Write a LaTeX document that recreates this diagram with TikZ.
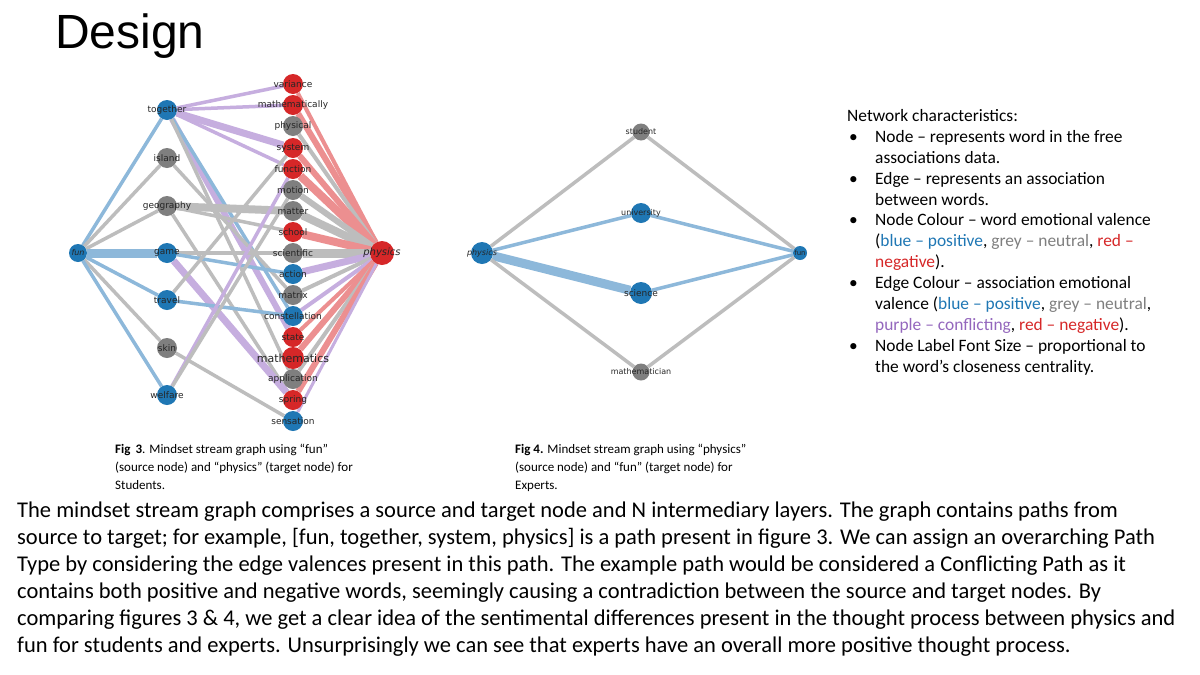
\documentclass[tikz,border=0pt]{standalone}
\usepackage{fontspec}
\setmainfont{Carlito}
\newfontfamily\ttl{Liberation Sans}
\newfontfamily\lab{DejaVu Sans}
\pgfdeclarelayer{back}\pgfdeclarelayer{bg}\pgfsetlayers{back,bg,main}
\definecolor{cB}{HTML}{1F77B4}\definecolor{cG}{HTML}{7F7F7F}
\definecolor{cR}{HTML}{D62728}\definecolor{cP}{HTML}{9467BD}
\definecolor{eB}{HTML}{8DB8DA}\definecolor{eG}{HTML}{BDBDBD}
\definecolor{eR}{HTML}{EC8F90}\definecolor{eP}{HTML}{C6AEDF}
\tikzset{
 nd/.style={circle,minimum size=20pt,inner sep=0pt,fill=#1},
 lbl/.style={font=\lab\fontsize{9}{9}\selectfont,text=black!85},
 e/.style={draw=#1,line width=3.5pt},
 body/.style={anchor=base west,inner sep=0pt,font=\fontsize{17.4}{17}\selectfont},
 para/.style={anchor=base west,inner sep=0pt,font=\fontsize{22.5}{22}\selectfont},
 figcap/.style={anchor=base west,inner sep=0pt,font=\fontsize{13}{13}\selectfont}
}
\begin{document}
\begin{tikzpicture}[x=1pt,y=-1pt]
\begin{pgfonlayer}{back}
\path[fill=white] (0,0) rectangle (1200,675);
\end{pgfonlayer}
\useasboundingbox (0,0) rectangle (1200,675);
\node[anchor=base west,inner sep=0pt,font=\ttl\fontsize{48}{48}\selectfont] (title) at (55,48) {Design};
% left graph nodes
\node[nd=cB,minimum size=18pt,label={[lbl,font=\lab\itshape\fontsize{8}{8}\selectfont]center:fun}] (fun) at (78,253) {};
\foreach \n/\y/\c in {together/110/cB,island/158/cG,geography/206/cG,game/253/cB,travel/300/cB,skin/348/cG,welfare/395/cB}
  \node[nd=\c,label={[lbl]center:\n}] (\n) at (167,\y) {};
\foreach \n/\y/\c in {variance/84/cR,mathematically/105/cR,physical/126/cG,system/148/cR,function/169/cR,motion/190/cG,matter/211/cG,school/232/cR,scientific/253/cG,action/274/cB,matrix/295/cG,constellation/316/cB,state/337/cR,application/379/cG,spring/400/cR,sensation/421/cB}
  \node[nd=\c,label={[lbl]center:\n}] (\n) at (293,\y) {};
\node[nd=cR,minimum size=22pt,label={[lbl,font=\lab\fontsize{11}{11}\selectfont]center:mathematics}] (mathematics) at (293,358) {};
\node[nd=cR,minimum size=24pt,label={[lbl,font=\lab\itshape\fontsize{10}{10}\selectfont]center:physics}] (physicsL) at (382,253) {};
\begin{pgfonlayer}{bg}
\draw[e=eB] (fun)--(together); \draw[e=eG] (fun)--(island); \draw[e=eG] (fun)--(geography);
\draw[e=eB,line width=9pt] (fun)--(game); \draw[e=eB] (fun)--(travel); \draw[e=eG] (fun)--(skin);
\draw[e=eB] (fun)--(welfare);
\draw[e=eP] (together)--(variance); \draw[e=eP] (together)--(mathematically);
\draw[e=eP,line width=7pt] (together)--(system); \draw[e=eP] (together)--(function);
\draw[e=eP,line width=6pt] (together)--(state); \draw[e=eB] (together)--(constellation);
\draw[e=eG] (together)--(application);
\draw[e=eG] (island)--(matrix);
\draw[e=eG,line width=8pt] (geography)--(matter); \draw[e=eG] (geography)--(school); \draw[e=eG] (geography)--(spring);
\draw[e=eG] (game)--(scientific); \draw[e=eB] (game)--(action); \draw[e=eP,line width=7pt] (game)--(spring);
\draw[e=eG] (travel)--(system); \draw[e=eB] (travel)--(constellation);
\draw[e=eG] (skin)--(sensation);
\draw[e=eP] (welfare)--(function); \draw[e=eG] (welfare)--(motion);
\foreach \n/\c/\w in {variance/eR/4,mathematically/eR/6,physical/eG/4,system/eR/6,function/eR/8,motion/eG/6,matter/eG/8,school/eR/8,scientific/eG/9,action/eP/7,matrix/eG/4,constellation/eP/4,state/eR/4,mathematics/eR/6,application/eG/4,spring/eR/6,sensation/eP/3}
  \draw[e=\c,line width=\w pt] (\n)--(physicsL);
\end{pgfonlayer}
% right graph
\node[nd=cB,minimum size=22pt,label={[lbl,font=\lab\itshape\fontsize{8}{8}\selectfont]center:physics}] (physicsR) at (482,253) {};
\node[nd=cB,minimum size=14pt,label={[lbl,font=\lab\fontsize{7}{7}\selectfont]center:fun}] (funR) at (800,253) {};
\node[nd=cG,minimum size=17pt,label={[lbl,font=\lab\fontsize{8}{8}\selectfont]center:student}] (student) at (641,132) {};
\node[nd=cB,minimum size=20pt,label={[lbl,font=\lab\fontsize{8}{8}\selectfont]center:university}] (university) at (641,213) {};
\node[nd=cB,minimum size=22pt,label={[lbl,font=\lab\fontsize{9}{9}\selectfont]center:science}] (science) at (641,293) {};
\node[nd=cG,minimum size=17pt,label={[lbl,font=\lab\fontsize{8}{8}\selectfont]center:mathematician}] (mathematician) at (641,372) {};
\begin{pgfonlayer}{bg}
\draw[e=eG] (physicsR)--(student); \draw[e=eB] (physicsR)--(university);
\draw[e=eB,line width=9pt] (physicsR)--(science); \draw[e=eG] (physicsR)--(mathematician);
\draw[e=eG] (student)--(funR); \draw[e=eB] (university)--(funR);
\draw[e=eB] (science)--(funR); \draw[e=eG] (mathematician)--(funR);
\end{pgfonlayer}
% captions
\node[figcap] (c1) at (115,453) {\textbf{Fig\, 3}. Mindset stream graph using ``fun''};
\node[figcap] (c2) at (115,471) {(source node) and ``physics'' (target node) for};
\node[figcap] (c3) at (115,489) {Students.};
\node[figcap] (c4) at (515,453) {\textbf{Fig 4.} Mindset stream graph using ``physics''};
\node[figcap] (c5) at (515,471) {(source node) and ``fun'' (target node) for};
\node[figcap] (c6) at (515,489) {Experts.};
% right text
\node[body] (t0) at (847,121) {Network characteristics:};
\foreach \y in {142,184,225,288,351} \node[body] at (849,\y) {•};
\node[body] (t1) at (875,142) {Node – represents word in the free};
\node[body] (t2) at (875,163) {associations data.};
\node[body] (t3) at (875,184) {Edge – represents an association};
\node[body] (t4) at (875,205) {between words.};
\node[body] (t5) at (875,225) {Node Colour – word emotional valence};
\node[body] (t6) at (875,246) {(\textcolor{cB}{blue – positive}, \textcolor{cG}{grey – neutral}, \textcolor{cR}{red –}};
\node[body] (t7) at (875,267) {\textcolor{cR}{negative}).};
\node[body] (t8) at (875,288) {Edge Colour – association emotional};
\node[body] (t9) at (875,309) {valence (\textcolor{cB}{blue – positive}, \textcolor{cG}{grey – neutral},};
\node[body] (t10) at (875,330) {\textcolor{cP}{purple – conflicting}, \textcolor{cR}{red – negative}).};
\node[body] (t11) at (875,351) {Node Label Font Size – proportional to};
\node[body] (t12) at (875,372) {the word’s closeness centrality.};
% paragraph
\node[para] (p1) at (17,517) {The mindset stream graph comprises a source and target node and N intermediary layers. The graph contains paths from};
\node[para] (p2) at (17,544) {source to target; for example, [fun, together, system, physics] is a path present in figure 3. We can assign an overarching Path};
\node[para] (p3) at (17,571) {Type by considering the edge valences present in this path. The example path would be considered a Conflicting Path as it};
\node[para] (p4) at (17,598) {contains both positive and negative words, seemingly causing a contradiction between the source and target nodes. By};
\node[para] (p5) at (17,625) {comparing figures 3 \& 4, we get a clear idea of the sentimental differences present in the thought process between physics and};
\node[para] (p6) at (17,652) {fun for students and experts. Unsurprisingly we can see that experts have an overall more positive thought process.};
\end{tikzpicture}
\end{document}
